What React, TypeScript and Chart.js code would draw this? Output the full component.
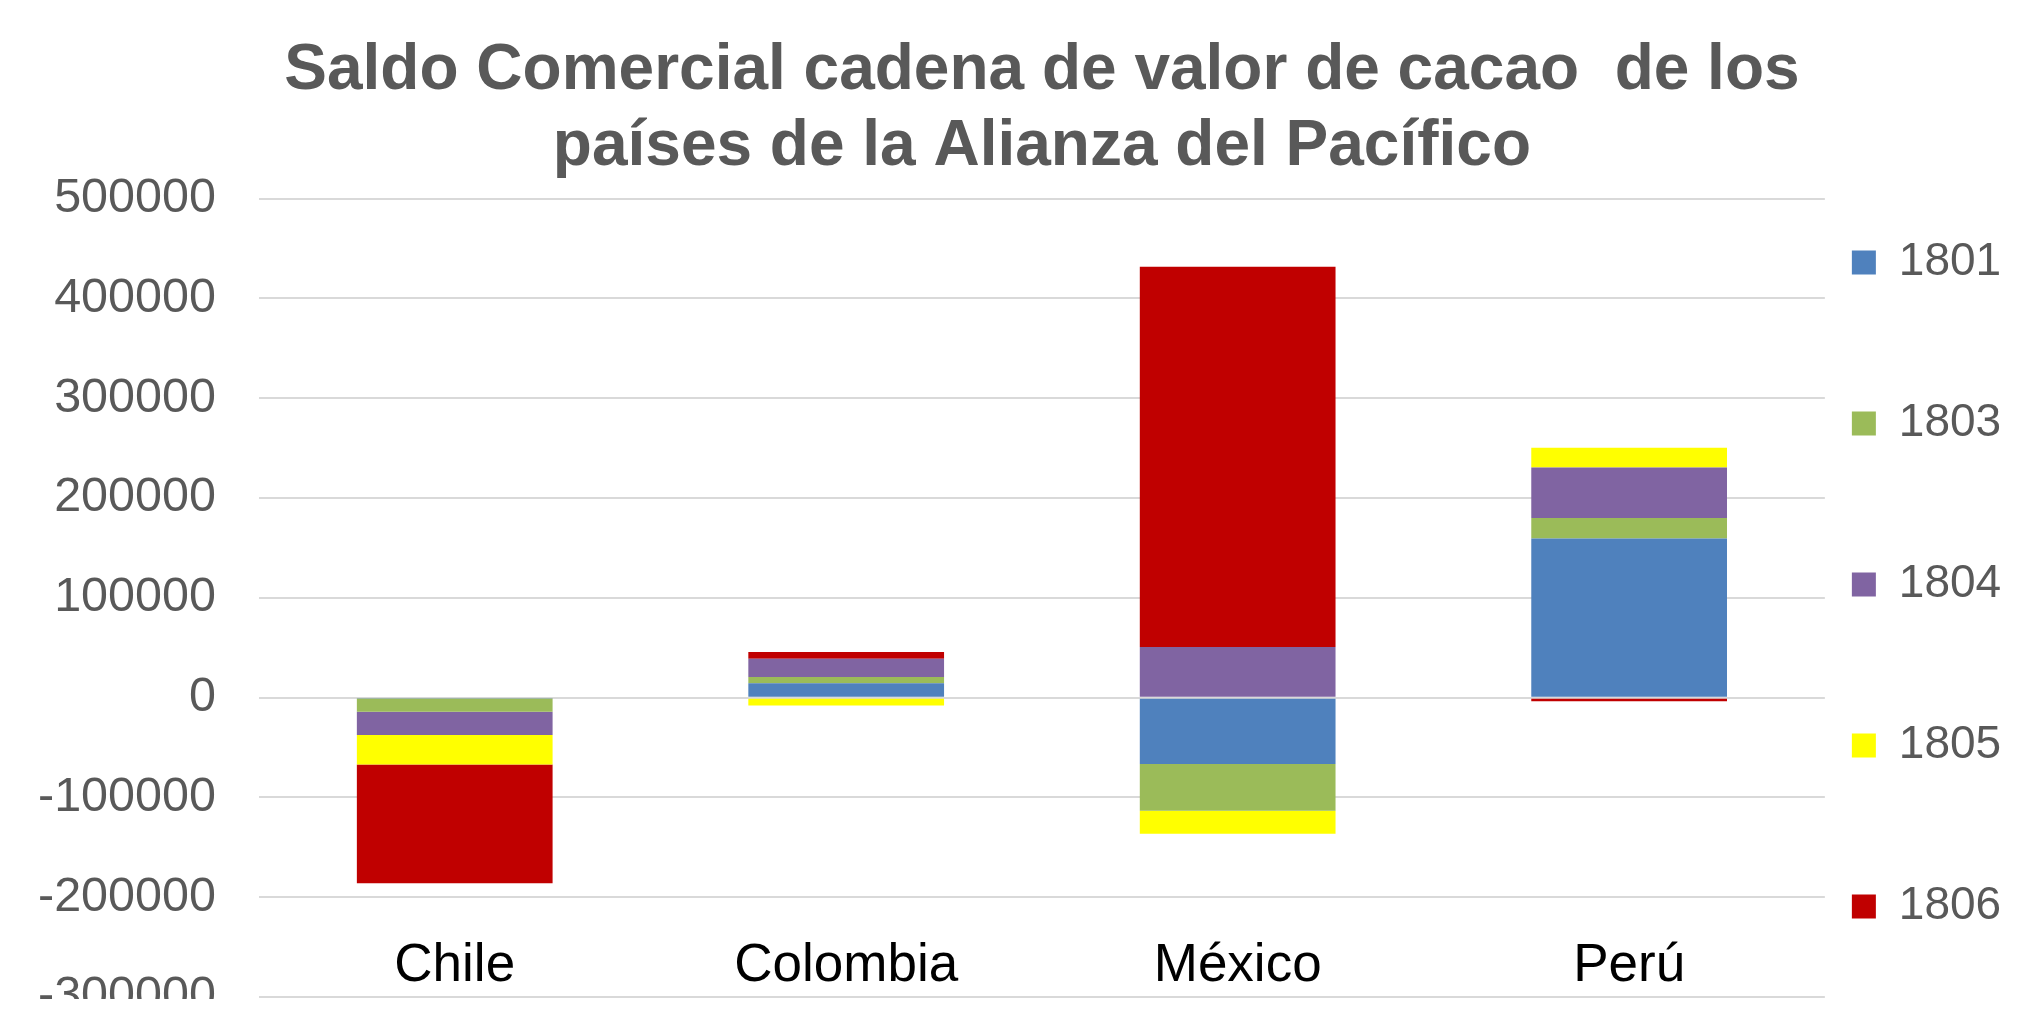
import React, { useEffect, useRef } from 'react';
import { Chart, registerables } from 'chart.js';

Chart.register(...registerables);

const categories = ['Chile', 'Colombia', 'México', 'Perú'];
const seriesNames = ['1801', '1803', '1804', '1805', '1806'];
const values1801 = [-800, 14400, -66500, 159600];
const values1803 = [-13300, 6300, -46800, 20300];
const values1804 = [-23300, 18300, 50800, 50700];
const values1805 = [-29700, -8000, -23000, 19700];
const values1806 = [-119000, 6700, 381000, -3700];
const seriesValues = [values1801, values1803, values1804, values1805, values1806];
const seriesColors = ['#4F81BD', '#9BBB59', '#8064A2', '#FFFF00', '#C00000'];
const titleLines = ['Saldo Comercial cadena de valor de cacao  de los', 'países de la Alianza del Pacífico'];
const yMin = -300000;
const yMax = 500000;
const yStep = 100000;

const FONT = "'Liberation Sans', Arial, sans-serif";
const W = 2021;
const H = 1007;

const legendShift = {
  id: 'legendShift',
  afterLayout(chart: any) {
    const l = chart.legend;
    if (l) {
      l.top += 117;
      l.bottom += 117;
    }
  },
};

export default function App() {
  const ref = useRef<HTMLCanvasElement>(null);

  useEffect(() => {
    if (!ref.current) return;
    document.documentElement.style.overflow = 'hidden';
    document.body.style.overflow = 'hidden';
    const chart = new Chart(ref.current, {
      type: 'bar',
      data: {
        labels: categories,
        datasets: seriesNames.map((name, i) => ({
          label: name,
          data: seriesValues[i],
          backgroundColor: seriesColors[i],
          borderWidth: 0,
          stack: 's',
          categoryPercentage: 0.5,
          barPercentage: 1,
        })),
      },
      options: {
        responsive: false,
        animation: false,
        layout: { padding: { left: 30, right: 17.8, top: 0, bottom: 0 } },
        plugins: {
          title: {
            display: true,
            text: titleLines,
            fullSize: false,
            color: '#595959',
            font: { family: FONT, size: 64, weight: 'bold', lineHeight: 75.5 / 64 },
            padding: { top: 26, bottom: 13.7 },
          },
          legend: {
            position: 'right',
            align: 'center',
            labels: {
              boxWidth: 24,
              boxHeight: 24,
              padding: 27,
              color: '#595959',
              font: { family: FONT, size: 46, lineHeight: 134 / 46 },
              generateLabels: (c: any) =>
                (Chart.defaults.plugins.legend.labels.generateLabels as any)(c).map((it: any) => ({
                  ...it,
                  text: [it.text],
                  lineWidth: 0,
                })),
            },
          },
          tooltip: { enabled: false },
        },
        scales: {
          x: {
            stacked: true,
            position: { y: -200000 } as any,
            grid: { display: false, drawTicks: false },
            border: { display: false },
            ticks: { color: '#000000', font: { family: FONT, size: 53 }, padding: 37 },
            afterFit: (s: any) => {
              s.paddingLeft = 0;
              s.paddingRight = 0;
              s.paddingTop = 0;
              s.paddingBottom = 0;
            },
          },
          y: {
            stacked: true,
            min: yMin,
            max: yMax,
            ticks: {
              stepSize: yStep,
              color: '#595959',
              font: { family: FONT, size: 48.5 },
              padding: 43,
              callback: (v: any) => String(v),
            },
            grid: { color: '#d9d9d9', lineWidth: 2, drawTicks: false },
            border: { display: false },
            afterFit: (s: any) => {
              s.paddingBottom = 18;
              s.width -= 43;
            },
          },
        },
      } as any,
      plugins: [legendShift],
    });
    return () => chart.destroy();
  }, []);

  return (
    <div style={{ width: W, height: H, marginBottom: -16 }}>
      <canvas ref={ref} width={W} height={H} style={{ display: 'block' }} />
    </div>
  );
}
